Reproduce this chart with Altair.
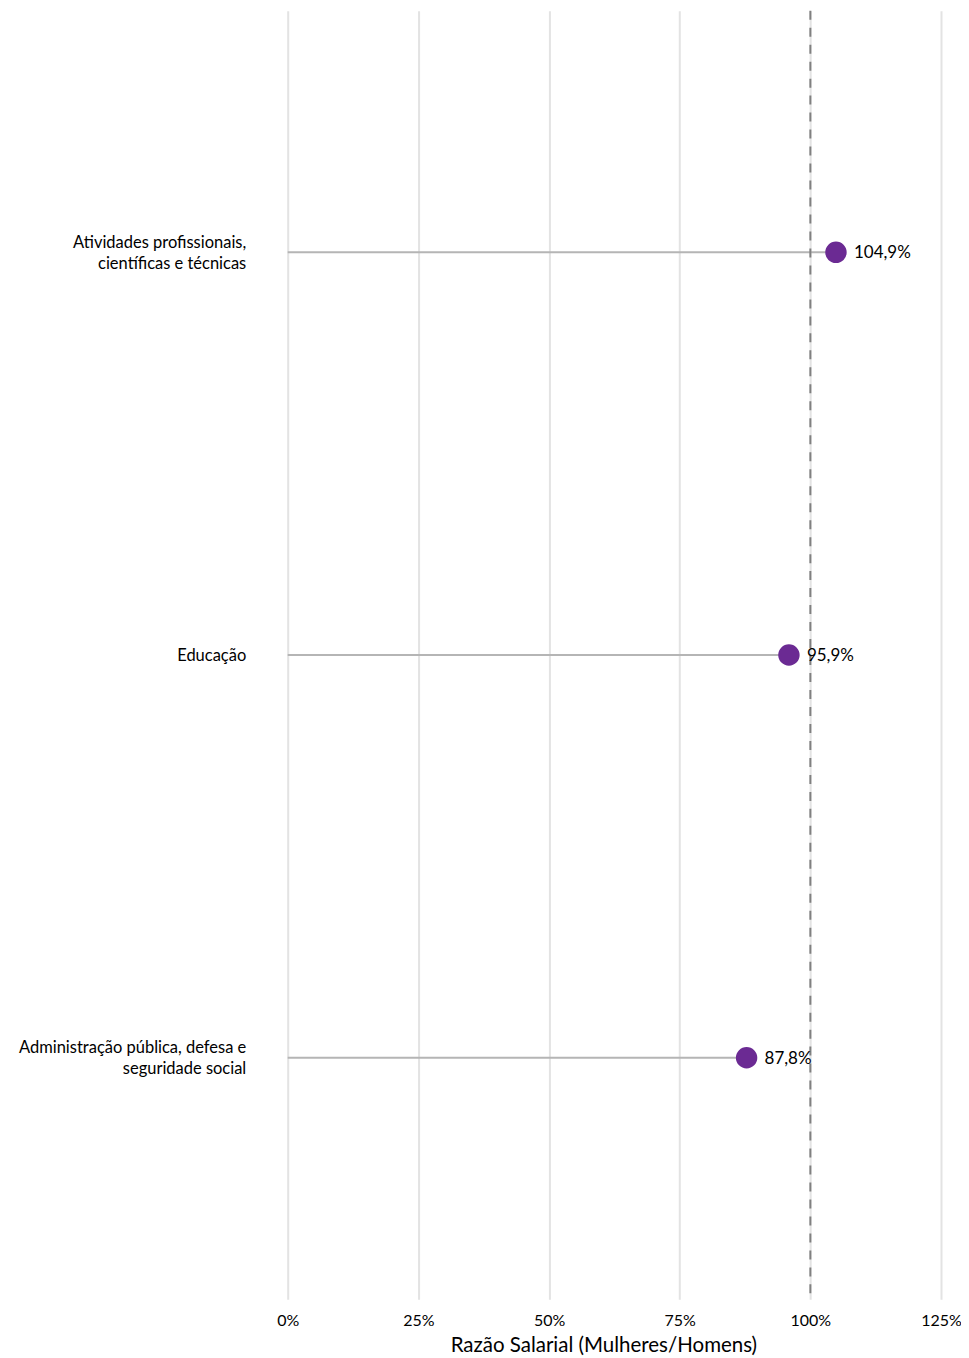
import altair as alt
import pandas as pd

categories = [
    "Atividades profissionais,|científicas e técnicas",
    "Educação",
    "Administração pública, defesa e|seguridade social",
]
values = [104.9, 95.9, 87.8]
value_labels = ["104,9%", "95,9%", "87,8%"]
x_ticks = [0, 25, 50, 75, 100, 125]
reference_value = [100]

df = pd.DataFrame({"cat": categories, "val": values, "lab": value_labels, "zero": [0, 0, 0]})
ref = pd.DataFrame({"ref": reference_value})

FONT = "Lato"

y_enc = alt.Y(
    "cat:N",
    sort=categories,
    scale=alt.Scale(type="point", padding=0.6),
    axis=alt.Axis(
        title=None, domain=False, ticks=False, grid=False,
        labelExpr="split(datum.label, '|')",
        labelPadding=42, labelFontSize=16.5, labelFont=FONT, labelColor="#000000",
        labelLineHeight=21, labelLimit=400, labelBaseline="middle",
        labelOffset={"condition": {"test": "indexof(datum.value, '|') >= 0", "value": -10}, "value": 0},
    ),
)
x_scale = alt.Scale(domain=[0, 125], nice=False, zero=True)
x_axis = alt.Axis(
    title="Razão Salarial (Mulheres/Homens)", values=x_ticks,
    labelExpr="datum.value + '%'", domain=False, ticks=False,
    grid=True, gridColor="#e3e3e3", gridWidth=2,
    labelFontSize=16, labelFont=FONT, labelColor="#000000", labelPadding=13,
    labelFlush=False,
    titleFontSize=20.5, titleFont=FONT, titleFontWeight="normal", titleColor="#000000",
    titlePadding=7, titleX=316,
)

stems = alt.Chart(df).mark_rule(color="#b5b5b5", strokeWidth=2).encode(
    x=alt.X("zero:Q", scale=x_scale, axis=x_axis),
    x2="val:Q",
    y=y_enc,
)

rule = alt.Chart(ref).mark_rule(color="#808080", strokeWidth=2, strokeDash=[9, 8]).encode(
    x=alt.X("ref:Q", scale=x_scale),
)

points = alt.Chart(df).mark_circle(size=460, color="#6b2a93", opacity=1).encode(
    x=alt.X("val:Q", scale=x_scale),
    y=alt.Y("cat:N", sort=categories),
)

texts = alt.Chart(df).mark_text(align="left", baseline="middle", dx=18, dy=1, fontSize=17, font=FONT, color="#000000").encode(
    x=alt.X("val:Q", scale=x_scale),
    y=alt.Y("cat:N", sort=categories),
    text="lab:N",
)

chart = alt.layer(stems, rule, points, texts).properties(
    width=654, height=1290,
    background="#ffffff",
    autosize=alt.AutoSizeParams(type="none"),
    padding={"left": 280, "top": 2, "right": 20, "bottom": 60},
).configure_view(stroke=None, strokeWidth=0)

chart.save("out.html", embed_options={"renderer": "svg", "actions": False})
